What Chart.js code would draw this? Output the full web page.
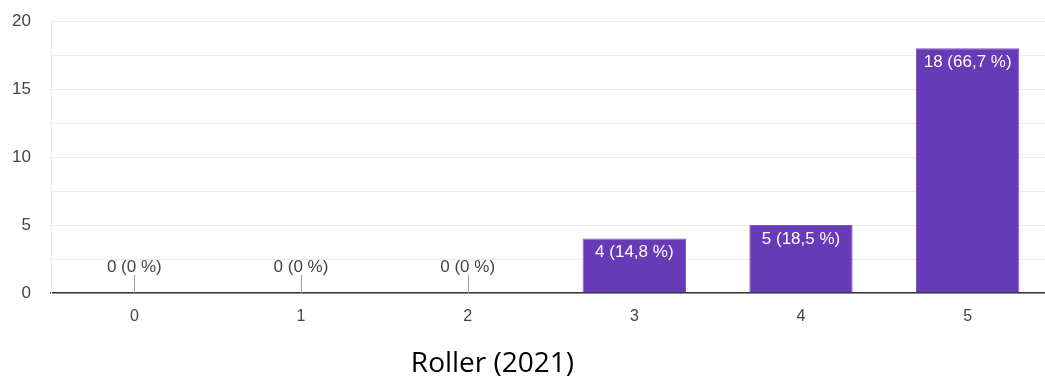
<!DOCTYPE html>
<html>
  <head>
    <title>Roller (2021)</title>
    <script src="https://cdn.jsdelivr.net/npm/chart.js"></script>
    <style>
      body { margin: 0; background: #fff; overflow: hidden; }
      #wrap { position: relative; width: 1045px; height: 378px; overflow: hidden; }
      #box { position: absolute; left: 0; top: 0; width: 1051px; height: 378px; }
      #legenda {
        position: absolute; left: 0; width: 985px; top: 342px;
        text-align: center; font-family: "Open Sans", sans-serif; font-size: 28px; color: #000;
      }
    </style>
  </head>

  <body>
    <div id="wrap">
      <div id="box"><canvas id="grafico"></canvas></div>
      <div id="legenda">Roller (2021)</div>
    </div>

    <script>
      var categorias = ["0", "1", "2", "3", "4", "5"];
      var respostas = [0, 0, 0, 4, 5, 18];
      var marcasY = [0, 5, 10, 15, 20];

      var total = respostas.reduce((a, b) => a + b, 0);

      function rotulo(v) {
        var pct = total ? (v / total) * 100 : 0;
        var txt = v == 0 ? "0" : pct.toFixed(1).replace(".", ",");
        return v + " (" + txt + " %)";
      }

      // rotulos das barras + tracinho nas barras com valor zero
      var rotulos = {
        id: "rotulos",
        afterDatasetsDraw(chart) {
          var ctx = chart.ctx;
          var meta = chart.getDatasetMeta(0);
          var y = chart.scales.y;
          ctx.save();
          ctx.font = "17px 'Liberation Sans', Arial, sans-serif";
          ctx.textAlign = "center";
          ctx.textBaseline = "middle";
          meta.data.forEach((bar, i) => {
            var v = respostas[i];
            var base = y.getPixelForValue(0);
            if (v == 0) {
              ctx.strokeStyle = "#9e9e9e";
              ctx.lineWidth = 1;
              ctx.beginPath();
              ctx.moveTo(Math.round(bar.x) + 0.5, base);
              ctx.lineTo(Math.round(bar.x) + 0.5, base - 18);
              ctx.stroke();
              ctx.fillStyle = "#444";
              ctx.fillText(rotulo(v), bar.x, base - 26);
            } else {
              ctx.fillStyle = "#ffffff";
              ctx.fillText(rotulo(v), bar.x, y.getPixelForValue(v) + 14);
            }
          });
          ctx.restore();
        },
      };

      new Chart(document.getElementById("grafico").getContext("2d"), {
        type: "bar",
        data: {
          labels: categorias,
          datasets: [
            {
              data: respostas,
              backgroundColor: "#673ab7",
              borderColor: "#7e57c2",
              borderWidth: 1,
              categoryPercentage: 1,
              barPercentage: 0.62,
            },
          ],
        },
        options: {
          responsive: true,
          maintainAspectRatio: false,
          animation: false,
          layout: { padding: { top: 21, right: 0, bottom: 0, left: 0 } },
          plugins: {
            legend: { display: false },
            tooltip: { enabled: false },
          },
          scales: {
            x: {
              grid: { display: false, drawTicks: false },
              border: { color: "#333333", width: 1.5 },
              ticks: {
                color: "#444",
                padding: 14,
                font: { family: "'Liberation Sans', Arial", size: 16 },
              },
              afterFit(scale) {
                scale.height = 85;
                scale.paddingLeft = 0;
                scale.paddingRight = 0;
              },
            },
            y: {
              min: 0,
              max: 20,
              grid: { color: "#ececec", drawTicks: false },
              border: { display: true, color: "#ececec" },
              ticks: {
                stepSize: 2.5,
                padding: 20,
                color: "#444",
                font: { family: "'Liberation Sans', Arial", size: 17 },
                callback: (v) => (marcasY.includes(v) ? v : ""),
              },
              afterFit(scale) {
                scale.width = 51;
                scale.paddingTop = 0;
                scale.paddingBottom = 0;
              },
            },
          },
        },
        plugins: [rotulos],
      });
    </script>
  </body>
</html>
